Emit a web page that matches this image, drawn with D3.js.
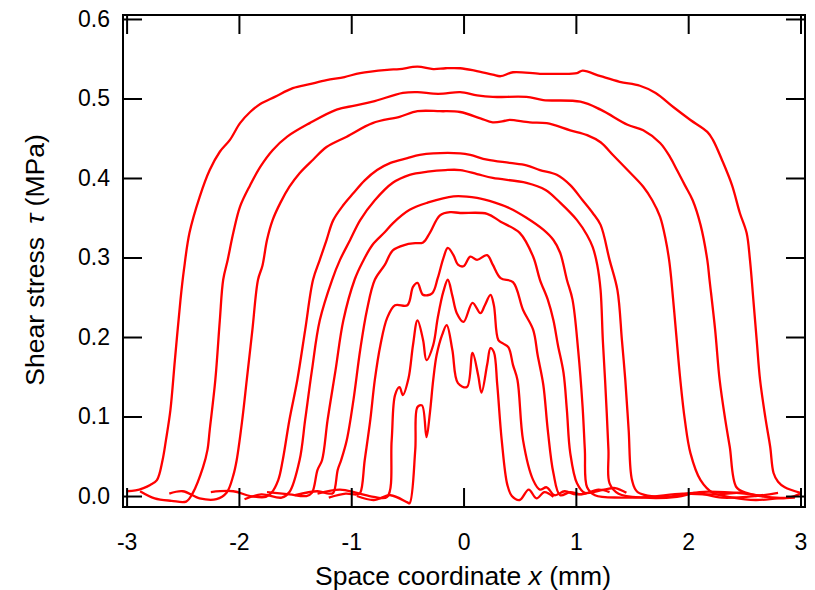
<!DOCTYPE html>
<html>
<head>
<meta charset="utf-8">
<script src="https://cdn.jsdelivr.net/npm/d3@7"></script>
<style>
  body { margin: 0; background: #fff; }
  text { font-family: "Liberation Sans", Arial, sans-serif; fill: #000; }
</style>
</head>
<body>
<svg></svg>
<script>

let width = 815, height = 590;

// tick values + labels
let xTicks = [-3, -2, -1, 0, 1, 2, 3];
let xTickLabels = ["-3", "-2", "-1", "0", "1", "2", "3"];
let yTicks = [0, 0.1, 0.2, 0.3, 0.4, 0.5, 0.6];
let yTickLabels = ["0.0", "0.1", "0.2", "0.3", "0.4", "0.5", "0.6"];

// profiles, [x (mm), tau (MPa)], outermost first
let curve1 = [[-3.0,0.006],[-2.92,0.007],[-2.85,0.010],[-2.79,0.014],[-2.73,0.02],[-2.68,0.045],[-2.65,0.07],[-2.61,0.108],[-2.57,0.171],[-2.52,0.247],[-2.49,0.284],[-2.44,0.331],[-2.35,0.376],[-2.26,0.41],[-2.17,0.433],[-2.08,0.448],[-1.99,0.469],[-1.9,0.483],[-1.81,0.493],[-1.68,0.502],[-1.52,0.513],[-1.37,0.518],[-1.22,0.523],[-1.06,0.527],[-0.92,0.532],[-0.68,0.536],[-0.57,0.537],[-0.41,0.54],[-0.27,0.537],[-0.16,0.538],[-0.03,0.538],[0.1,0.535],[0.26,0.53],[0.33,0.528],[0.44,0.533],[0.68,0.531],[0.86,0.531],[1.01,0.532],[1.06,0.535],[1.22,0.528],[1.39,0.521],[1.57,0.516],[1.71,0.507],[1.87,0.489],[2.02,0.473],[2.17,0.458],[2.22,0.448],[2.3,0.423],[2.39,0.391],[2.46,0.356],[2.52,0.331],[2.55,0.297],[2.58,0.247],[2.61,0.196],[2.64,0.146],[2.69,0.096],[2.73,0.062],[2.76,0.029],[2.8,0.018],[2.86,0.011],[3.0,0.004]];

let curve2 = [[-2.88,0.006],[-2.75,-0.003],[-2.6,-0.006],[-2.47,-0.007],[-2.41,0.004],[-2.32,0.036],[-2.28,0.058],[-2.26,0.083],[-2.21,0.146],[-2.17,0.221],[-2.14,0.272],[-2.10,0.297],[-2.05,0.331],[-1.99,0.364],[-1.90,0.391],[-1.81,0.414],[-1.70,0.435],[-1.57,0.452],[-1.37,0.469],[-1.13,0.486],[-0.97,0.491],[-0.81,0.496],[-0.54,0.507],[-0.41,0.508],[-0.27,0.506],[-0.18,0.506],[-0.03,0.508],[0.12,0.504],[0.26,0.502],[0.56,0.502],[0.71,0.498],[1.04,0.496],[1.22,0.486],[1.46,0.467],[1.60,0.46],[1.75,0.444],[1.84,0.426],[1.90,0.41],[1.97,0.391],[2.04,0.372],[2.11,0.341],[2.17,0.297],[2.19,0.272],[2.24,0.209],[2.28,0.146],[2.33,0.096],[2.37,0.062],[2.43,0.011],[2.52,0.004],[2.7,-0.001],[2.9,-0.002],[3.0,0.003]];

let curve3 = [[-2.62,0.003],[-2.5,0.006],[-2.35,-0.003],[-2.2,-0.004],[-2.11,0.004],[-2.05,0.026],[-2.02,0.045],[-1.97,0.096],[-1.93,0.146],[-1.88,0.209],[-1.83,0.272],[-1.79,0.29],[-1.75,0.322],[-1.70,0.347],[-1.63,0.369],[-1.55,0.389],[-1.46,0.406],[-1.34,0.423],[-1.22,0.439],[-1.04,0.452],[-0.81,0.469],[-0.57,0.477],[-0.41,0.484],[-0.21,0.484],[-0.03,0.483],[0.15,0.475],[0.26,0.47],[0.37,0.472],[0.41,0.473],[0.59,0.47],[0.74,0.469],[0.95,0.46],[1.10,0.454],[1.22,0.445],[1.33,0.429],[1.46,0.41],[1.60,0.389],[1.68,0.372],[1.75,0.351],[1.80,0.322],[1.83,0.297],[1.85,0.272],[1.89,0.209],[1.93,0.146],[1.97,0.096],[2.02,0.054],[2.11,0.02],[2.22,0.004],[2.4,-0.002],[2.6,-0.005],[2.8,-0.003],[2.95,-0.002]];

let curve4 = [[-2.25,0.005],[-2.05,0.006],[-1.9,0.0],[-1.76,-0.001],[-1.71,0.004],[-1.65,0.02],[-1.61,0.045],[-1.55,0.096],[-1.48,0.146],[-1.41,0.209],[-1.34,0.272],[-1.28,0.297],[-1.22,0.322],[-1.16,0.347],[-1.07,0.366],[-0.98,0.381],[-0.88,0.397],[-0.77,0.41],[-0.65,0.419],[-0.5,0.425],[-0.39,0.429],[-0.27,0.431],[-0.03,0.431],[0.06,0.429],[0.21,0.423],[0.41,0.419],[0.56,0.416],[0.68,0.41],[0.83,0.404],[0.95,0.391],[1.06,0.372],[1.15,0.356],[1.22,0.341],[1.30,0.297],[1.37,0.259],[1.41,0.196],[1.44,0.146],[1.47,0.083],[1.5,0.02],[1.55,0.005],[1.8,-0.001],[2.05,0.004],[2.3,-0.002],[2.6,0.0],[2.8,0.004]];

let curve5 = [[-1.95,-0.004],[-1.8,0.002],[-1.62,-0.002],[-1.55,0.005],[-1.46,0.045],[-1.41,0.096],[-1.35,0.158],[-1.28,0.221],[-1.17,0.272],[-1.10,0.297],[-1.01,0.322],[-0.92,0.347],[-0.79,0.372],[-0.63,0.394],[-0.48,0.404],[-0.32,0.408],[-0.16,0.41],[-0.03,0.41],[0.12,0.405],[0.26,0.4],[0.56,0.394],[0.73,0.385],[0.86,0.369],[1.01,0.347],[1.10,0.328],[1.15,0.313],[1.19,0.291],[1.22,0.259],[1.24,0.196],[1.26,0.146],[1.29,0.058],[1.30,0.016],[1.38,0.003],[1.6,-0.002],[1.9,-0.001],[2.1,0.005],[2.5,0.003],[2.7,-0.001]];

let curve6 = [[-1.75,0.005],[-1.55,0.002],[-1.4,0.0],[-1.35,0.004],[-1.30,0.033],[-1.26,0.045],[-1.21,0.096],[-1.14,0.158],[-1.07,0.221],[-0.97,0.272],[-0.90,0.294],[-0.81,0.316],[-0.70,0.332],[-0.63,0.343],[-0.48,0.36],[-0.32,0.369],[-0.09,0.377],[0.12,0.375],[0.28,0.369],[0.41,0.362],[0.56,0.35],[0.71,0.335],[0.80,0.322],[0.86,0.306],[0.92,0.272],[0.97,0.247],[1.02,0.184],[1.06,0.112],[1.08,0.058],[1.10,0.011],[1.17,0.001],[1.4,-0.002],[1.65,-0.001],[1.95,0.003],[2.2,0.002],[2.5,0.005]];

let curve7 = [[-1.5,0.001],[-1.3,0.006],[-1.2,0.003],[-1.16,0.004],[-1.12,0.033],[-1.09,0.045],[-1.04,0.07],[-0.98,0.121],[-0.92,0.184],[-0.86,0.234],[-0.79,0.272],[-0.70,0.291],[-0.63,0.309],[-0.52,0.316],[-0.43,0.318],[-0.36,0.319],[-0.30,0.331],[-0.21,0.353],[-0.12,0.357],[-0.03,0.356],[0.21,0.355],[0.33,0.345],[0.50,0.331],[0.62,0.301],[0.68,0.272],[0.75,0.247],[0.80,0.221],[0.84,0.19],[0.89,0.155],[0.92,0.108],[0.95,0.054],[1.01,0.016],[1.08,0.004],[1.25,0.008],[1.35,0.01],[1.45,0.004]];

let curve8 = [[-1.2,-0.002],[-1.05,0.003],[-0.95,0.002],[-0.92,0.004],[-0.88,0.045],[-0.83,0.096],[-0.79,0.146],[-0.74,0.19],[-0.68,0.224],[-0.61,0.24],[-0.50,0.24],[-0.45,0.263],[-0.41,0.268],[-0.36,0.253],[-0.28,0.255],[-0.23,0.274],[-0.18,0.299],[-0.14,0.312],[-0.09,0.303],[-0.05,0.291],[0.0,0.289],[0.06,0.301],[0.12,0.297],[0.21,0.303],[0.26,0.291],[0.33,0.274],[0.44,0.269],[0.53,0.234],[0.62,0.209],[0.66,0.177],[0.71,0.14],[0.75,0.083],[0.80,0.029],[0.86,0.001],[0.95,0.005],[1.05,0.002],[1.2,0.008],[1.3,0.005]];

let curve9 = [[-1.3,0.003],[-1.1,0.008],[-0.95,0.004],[-0.8,-0.001],[-0.68,-0.001],[-0.64,0.07],[-0.61,0.127],[-0.57,0.137],[-0.54,0.127],[-0.49,0.148],[-0.45,0.19],[-0.41,0.221],[-0.36,0.196],[-0.33,0.171],[-0.27,0.19],[-0.23,0.224],[-0.18,0.257],[-0.14,0.272],[-0.10,0.252],[-0.06,0.23],[0.0,0.219],[0.08,0.243],[0.15,0.23],[0.19,0.24],[0.24,0.253],[0.27,0.24],[0.31,0.196],[0.35,0.192],[0.40,0.187],[0.44,0.165],[0.48,0.146],[0.53,0.07],[0.62,0.02],[0.68,0.008],[0.74,0.011],[0.81,0.001],[0.9,0.006],[1.0,0.002],[1.1,0.004]];

let curve10 = [[-0.95,0.0],[-0.8,-0.005],[-0.65,0.001],[-0.5,-0.008],[-0.48,-0.009],[-0.43,0.058],[-0.41,0.112],[-0.37,0.114],[-0.33,0.074],[-0.30,0.104],[-0.27,0.146],[-0.24,0.177],[-0.19,0.203],[-0.15,0.215],[-0.10,0.184],[-0.05,0.142],[0.03,0.137],[0.08,0.18],[0.13,0.152],[0.16,0.13],[0.21,0.165],[0.24,0.186],[0.27,0.181],[0.30,0.14],[0.34,0.07],[0.39,0.014],[0.43,0.0],[0.50,-0.005],[0.58,0.008],[0.65,-0.003],[0.72,0.005],[0.8,-0.001]];

let curves = [curve1, curve2, curve3, curve4, curve5, curve6, curve7, curve8, curve9, curve10];

let svg = d3.select("svg")
    .attr("width", width)
    .attr("height", height);

// plot frame in pixels
let plotLeft = 123, plotRight = 805, plotTop = 15, plotBottom = 507;

let x = d3.scaleLinear().domain([-3.032, 3.04]).range([plotLeft, plotRight]);
let y = d3.scaleLinear().domain([-0.0138, 0.605]).range([plotBottom, plotTop]);

svg.append("defs").append("clipPath")
    .attr("id", "plotclip")
    .append("rect")
    .attr("x", plotLeft).attr("y", plotTop)
    .attr("width", plotRight - plotLeft).attr("height", plotBottom - plotTop);

let line = d3.line()
    .curve(d3.curveCatmullRom.alpha(0.5))
    .x(d => x(d[0]))
    .y(d => y(d[1]));

svg.append("g")
    .attr("clip-path", "url(#plotclip)")
    .selectAll("path")
    .data(curves)
    .enter()
    .append("path")
    .attr("d", line)
    .attr("fill", "none")
    .attr("stroke", "#ff0000")
    .attr("stroke-width", 2.3)
    .attr("stroke-linejoin", "round");

// axes, ticks pointing inward on all four sides
let tickLen = 19;

svg.append("g")
    .attr("transform", `translate(0,${plotBottom})`)
    .call(d3.axisBottom(x).tickValues(xTicks).tickSize(-tickLen).tickFormat((d, i) => xTickLabels[i]).tickPadding(tickLen + 8));

svg.append("g")
    .attr("transform", `translate(0,${plotTop})`)
    .call(d3.axisTop(x).tickValues(xTicks).tickSize(-tickLen).tickFormat(""));

svg.append("g")
    .attr("transform", `translate(${plotLeft},0)`)
    .call(d3.axisLeft(y).tickValues(yTicks).tickSize(-tickLen).tickFormat((d, i) => yTickLabels[i]).tickPadding(13));

svg.append("g")
    .attr("transform", `translate(${plotRight},0)`)
    .call(d3.axisRight(y).tickValues(yTicks).tickSize(-tickLen).tickFormat(""));

svg.selectAll(".domain").remove();
svg.selectAll(".tick line").attr("stroke", "#000").attr("stroke-width", 2);
svg.selectAll(".tick text")
    .style("font-size", "23px")
    .style("font-family", "'Liberation Sans', Arial, sans-serif")
    .attr("fill", "#000");

// frame
svg.append("rect")
    .attr("x", plotLeft).attr("y", plotTop)
    .attr("width", plotRight - plotLeft).attr("height", plotBottom - plotTop)
    .attr("fill", "none")
    .attr("stroke", "#000")
    .attr("stroke-width", 2);

// axis titles
let xTitle = svg.append("text")
    .attr("x", (plotLeft + plotRight) / 2 - 1)
    .attr("y", 585)
    .attr("text-anchor", "middle")
    .style("font-size", "26.5px");
xTitle.append("tspan").text("Space coordinate ");
xTitle.append("tspan").style("font-style", "italic").text("x");
xTitle.append("tspan").text(" (mm)");

let yTitle = svg.append("text")
    .attr("transform", "translate(44,260) rotate(-90)")
    .attr("text-anchor", "middle")
    .style("font-size", "26.5px");
yTitle.append("tspan").text("Shear stress\u2002");
yTitle.append("tspan").style("font-style", "italic").text("\u03c4");
yTitle.append("tspan").text(" (MPa)");

</script>
</body>
</html>
